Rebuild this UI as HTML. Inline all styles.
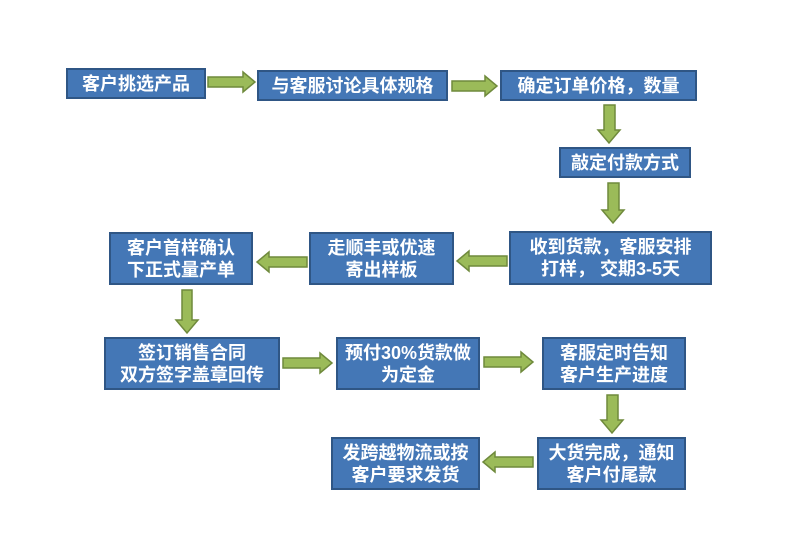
<!DOCTYPE html>
<html><head><meta charset="utf-8"><style>
html,body{margin:0;padding:0;background:#fff;}
body{width:790px;height:558px;position:relative;overflow:hidden;font-family:"Liberation Sans","Noto Sans CJK SC",sans-serif;}
.b{position:absolute;box-sizing:border-box;background:#4477b6;border:2px solid #2f5685;color:#fff;display:flex;align-items:center;justify-content:center;text-align:center;font-size:18px;line-height:22px;font-weight:bold;white-space:nowrap;}
svg{position:absolute;left:0;top:0;}
</style></head><body>
<svg width="790" height="558" viewBox="0 0 790 558">
<g fill="#9bbb59" stroke="#6f8a3c" stroke-width="1.5" stroke-linejoin="miter">
<!-- right arrows -->
<polygon points="208,77 243,77 243,72 255,82 243,92 243,87 208,87"/>
<polygon points="452,81 485,81 485,76 497,86 485,96 485,91 452,91"/>
<polygon points="283,358 320,358 320,353 332,363 320,373 320,368 283,368"/>
<polygon points="484,357 521,357 521,352 533,362 521,372 521,367 484,367"/>
<!-- left arrows -->
<polygon points="507,256 469,256 469,251 457,261 469,271 469,266 507,266"/>
<polygon points="307,257 269,257 269,252 257,262 269,272 269,267 307,267"/>
<polygon points="533,457 495,457 495,452 483,462 495,472 495,467 533,467"/>
<!-- down arrows -->
<polygon points="604,105 615,105 615,130 620,130 609,143 598,130 604,130"/>
<polygon points="608,183 619,183 619,210 624,210 613,223 602,210 608,210"/>
<polygon points="182,290 192,290 192,320 198,320 187,333 176,320 182,320"/>
<polygon points="607,395 618,395 618,420 623,420 612,433 601,420 607,420"/>
</g>
</svg>
<div class="b" style="left:66px;top:68px;width:140px;height:31px;">客户挑选产品</div>
<div class="b" style="left:257px;top:70px;width:191px;height:31px;">与客服讨论具体规格</div>
<div class="b" style="left:500px;top:70px;width:197px;height:31px;">确定订单价格，数量</div>
<div class="b" style="left:559px;top:147px;width:132px;height:31px;">敲定付款方式</div>
<div class="b" style="left:509px;top:231px;width:203px;height:54px;">收到货款，客服安排<br>打样， 交期3-5天</div>
<div class="b" style="left:309px;top:232px;width:145px;height:53px;">走顺丰或优速<br>寄出样板</div>
<div class="b" style="left:109px;top:232px;width:144px;height:53px;">客户首样确认<br>下正式量产单</div>
<div class="b" style="left:104px;top:337px;width:176px;height:53px;">签订销售合同<br>双方签字盖章回传</div>
<div class="b" style="left:336px;top:337px;width:144px;height:53px;">预付30%货款做<br>为定金</div>
<div class="b" style="left:542px;top:337px;width:144px;height:53px;">客服定时告知<br>客户生产进度</div>
<div class="b" style="left:537px;top:437px;width:149px;height:53px;">大货完成，通知<br>客户付尾款</div>
<div class="b" style="left:331px;top:437px;width:149px;height:53px;">发跨越物流或按<br>客户要求发货</div>
</body></html>
